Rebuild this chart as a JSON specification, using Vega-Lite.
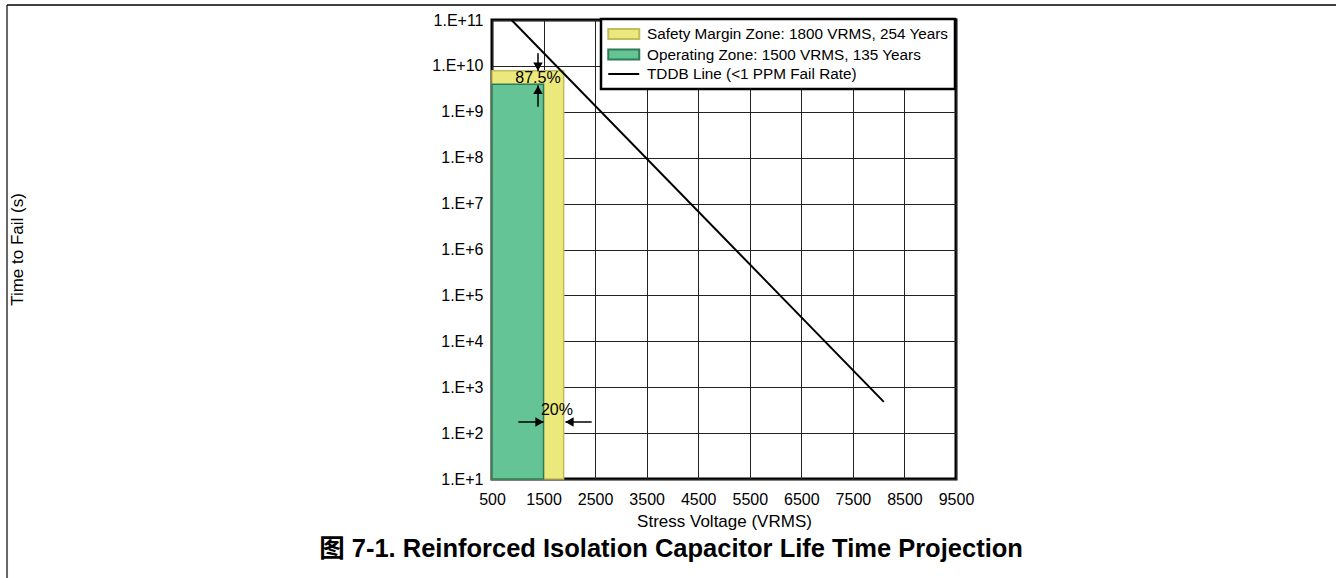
{
  "$schema": "https://vega.github.io/schema/vega-lite/v6.json",
  "width": 464,
  "height": 459,
  "autosize": {"type": "none"},
  "padding": {"left": 492, "top": 20, "right": 380, "bottom": 99},
  "background": "white",
  "config": {
    "font": "Liberation Sans",
    "view": {"stroke": "black", "strokeWidth": 3},
    "axis": {
      "grid": true,
      "gridColor": "#222222",
      "gridWidth": 1,
      "gridOpacity": 1,
      "ticks": false,
      "domain": false,
      "labelFont": "Liberation Sans",
      "labelFontSize": 16,
      "labelColor": "black",
      "titleFont": "Liberation Sans",
      "titleFontSize": 17,
      "titleFontWeight": "normal",
      "titleColor": "black",
      "labelOverlap": false,
      "labelFlush": false
    },
    "legend": {"strokeWidth": 2.5}
  },
  "title": {
    "text": "图 7-1. Reinforced Isolation Capacitor Life Time Projection",
    "orient": "bottom",
    "anchor": "middle",
    "frame": "group",
    "font": "Liberation Sans, Noto Sans CJK SC",
    "fontSize": 25.5,
    "fontWeight": "bold",
    "color": "black",
    "offset": 0,
    "dx": -53,
    "dy": -42
  },
  "datasets": {
    "zones": [
      {"zone": "Safety Margin Zone", "v": 500, "v2": 1890, "t": 10, "t2": 7.8e9},
      {"zone": "Operating Zone", "v": 500, "v2": 1500, "t": 10, "t2": 4.0e9}
    ],
    "tddb": [
      {"v": 880, "t": 1e11},
      {"v": 8100, "t": 480}
    ],
    "shafts": [
      {"v": 1392, "v2": 1392, "t": 1.88e10, "t2": 7.6e9},
      {"v": 1392, "v2": 1392, "t": 1.29e9, "t2": 3.8e9},
      {"v": 1010, "v2": 1500, "t": 174.6, "t2": 174.6},
      {"v": 2434, "v2": 1925, "t": 174.6, "t2": 174.6}
    ],
    "heads": [
      {"dir": "down", "v": 1392, "t": 9.6e9},
      {"dir": "up", "v": 1392, "t": 2.99e9},
      {"dir": "right", "v": 1421, "t": 174.6},
      {"dir": "left", "v": 2003, "t": 174.6}
    ],
    "notes": [
      {"label": "87.5%", "v": 1392, "t": 5.45e9},
      {"label": "20%", "v": 1760, "t": 318}
    ],
    "frame": [
      {"side": "left", "v": -8907, "v2": -8907, "t": 2.12e11, "t2": 0.0697},
      {"side": "top", "v": -8907, "v2": 16871, "t": 2.12e11, "t2": 2.12e11}
    ]
  },
  "encoding": {
    "x": {
      "field": "v",
      "type": "quantitative",
      "scale": {"domain": [500, 9500], "nice": false, "zero": false},
      "axis": {
        "values": [500, 1500, 2500, 3500, 4500, 5500, 6500, 7500, 8500, 9500],
        "format": "d",
        "labelPadding": 12,
        "title": "Stress Voltage (VRMS)",
        "titlePadding": 6
      }
    },
    "y": {
      "field": "t",
      "type": "quantitative",
      "scale": {"type": "log", "domain": [10, 1e11], "nice": false},
      "axis": {
        "values": [10, 100, 1000, 10000, 100000, 1000000, 10000000, 100000000, 1000000000, 10000000000, 100000000000],
        "labelExpr": "'1.E+' + round(log(datum.value) / LN10)",
        "labelPadding": 9,
        "title": "Time to Fail (s)",
        "titleX": -475,
        "titleY": 229,
        "titleBaseline": "middle"
      }
    }
  },
  "layer": [
    {
      "data": {"name": "zones"},
      "transform": [{"filter": "datum.zone == 'Safety Margin Zone'"}],
      "mark": {"type": "rect", "fill": "#ebe87c", "stroke": "#c4bc5c", "strokeWidth": 1.5},
      "encoding": {"x2": {"field": "v2"}, "y2": {"field": "t2"}}
    },
    {
      "data": {"name": "zones"},
      "transform": [{"filter": "datum.zone == 'Operating Zone'"}],
      "mark": {"type": "rect", "fill": "#64c495", "stroke": "#2e7b55", "strokeWidth": 1.5},
      "encoding": {"x2": {"field": "v2"}, "y2": {"field": "t2"}}
    },
    {
      "data": {"name": "tddb"},
      "mark": {"type": "line", "color": "black", "strokeWidth": 2, "clip": true},
      "encoding": {}
    },
    {
      "data": {"name": "shafts"},
      "mark": {"type": "rule", "color": "black", "strokeWidth": 1.5},
      "encoding": {"x2": {"field": "v2"}, "y2": {"field": "t2"}}
    },
    {
      "data": {"name": "heads"},
      "transform": [{"filter": "datum.dir == 'down'"}],
      "mark": {"type": "point", "shape": "triangle-down", "filled": true, "color": "black", "size": 90, "opacity": 1}
    },
    {
      "data": {"name": "heads"},
      "transform": [{"filter": "datum.dir == 'up'"}],
      "mark": {"type": "point", "shape": "triangle-up", "filled": true, "color": "black", "size": 90, "opacity": 1}
    },
    {
      "data": {"name": "heads"},
      "transform": [{"filter": "datum.dir == 'right'"}],
      "mark": {"type": "point", "shape": "triangle-right", "filled": true, "color": "black", "size": 90, "opacity": 1}
    },
    {
      "data": {"name": "heads"},
      "transform": [{"filter": "datum.dir == 'left'"}],
      "mark": {"type": "point", "shape": "triangle-left", "filled": true, "color": "black", "size": 90, "opacity": 1}
    },
    {
      "data": {"name": "notes"},
      "mark": {"type": "text", "font": "Liberation Sans", "fontSize": 16, "color": "black", "align": "center", "baseline": "middle"},
      "encoding": {"text": {"field": "label"}}
    },
    {
      "data": {"values": []},
      "mark": {"type": "point", "filled": true},
      "encoding": {
        "fill": {
          "field": "series",
          "type": "nominal",
          "scale": {
            "domain": ["Safety Margin Zone: 1800 VRMS, 254 Years", "Operating Zone: 1500 VRMS, 135 Years", "TDDB Line (<1 PPM Fail Rate)"],
            "range": ["#ebe87c", "#64c495", "transparent"]
          },
          "legend": {"title": null, "orient": "none", "legendX": 109, "legendY": -1, "symbolSize": 240, "symbolStrokeWidth": 2, "symbolOpacity": 1, "labelFontSize": 15.3, "labelFont": "Liberation Sans", "labelColor": "black", "labelOffset": 22, "rowPadding": 0.5, "padding": 6, "fillColor": "white", "strokeColor": "black", "labelLimit": 400}
        },
        "stroke": {
          "field": "series",
          "type": "nominal",
          "scale": {
            "domain": ["Safety Margin Zone: 1800 VRMS, 254 Years", "Operating Zone: 1500 VRMS, 135 Years", "TDDB Line (<1 PPM Fail Rate)"],
            "range": ["#c4bc5c", "#2e7b55", "black"]
          },
          "legend": {"title": null, "orient": "none", "legendX": 109, "legendY": -1, "symbolSize": 240, "symbolStrokeWidth": 2, "symbolOpacity": 1, "labelFontSize": 15.3, "labelFont": "Liberation Sans", "labelColor": "black", "labelOffset": 22, "rowPadding": 0.5, "padding": 6, "fillColor": "white", "strokeColor": "black", "labelLimit": 400}
        },
        "shape": {
          "field": "series",
          "type": "nominal",
          "scale": {
            "domain": ["Safety Margin Zone: 1800 VRMS, 254 Years", "Operating Zone: 1500 VRMS, 135 Years", "TDDB Line (<1 PPM Fail Rate)"],
            "range": ["M-1,-0.65H3V0.65H-1Z", "M-1,-0.65H3V0.65H-1Z", "M-1,0H3"]
          },
          "legend": {"title": null, "orient": "none", "legendX": 109, "legendY": -1, "symbolSize": 240, "symbolStrokeWidth": 2, "symbolOpacity": 1, "labelFontSize": 15.3, "labelFont": "Liberation Sans", "labelColor": "black", "labelOffset": 22, "rowPadding": 0.5, "padding": 6, "fillColor": "white", "strokeColor": "black", "labelLimit": 400}
        }
      }
    },
    {
      "data": {"name": "frame"},
      "transform": [{"filter": "datum.side == 'left'"}],
      "mark": {"type": "rule", "color": "#666666", "strokeWidth": 2, "clip": false},
      "encoding": {"x2": {"field": "v2"}, "y2": {"field": "t2"}}
    },
    {
      "data": {"name": "frame"},
      "transform": [{"filter": "datum.side == 'top'"}],
      "mark": {"type": "rule", "color": "black", "strokeWidth": 1.5, "clip": false},
      "encoding": {"x2": {"field": "v2"}, "y2": {"field": "t2"}}
    }
  ]
}
